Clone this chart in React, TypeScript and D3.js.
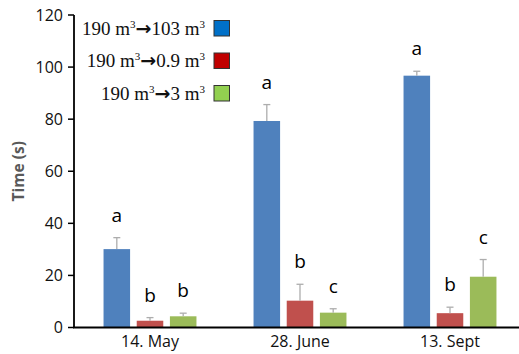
import React from "react";
import * as d3 from "d3";

const dates = ["14. May", "28. June", "13. Sept"];
const seriesKeys = ["103", "0.9", "3"];
const seriesLabels = ["103", "0.9", "3"];
const blueValues = [30.1, 79.3, 96.7];
const redValues = [2.6, 10.3, 5.5];
const greenValues = [4.3, 5.7, 19.5];
const blueErr = [4.4, 6.3, 1.7];
const redErr = [1.2, 6.3, 2.3];
const greenErr = [1.2, 1.5, 6.6];
const blueLetters = ["a", "a", "a"];
const redLetters = ["b", "b", "b"];
const greenLetters = ["b", "c", "c"];
const yTicks = [0, 20, 40, 60, 80, 100, 120];

const barColors = ["#4F81BD", "#C0504D", "#9BBB59"];
const legendColors = ["#0070C8", "#C00000", "#92D050"];

export default function App() {
  const W = 519, H = 354;
  const x0 = 75, x1 = 525;
  const y = d3.scaleLinear().domain([0, 120]).range([327.5, 15]);
  const xb = d3.scaleBand().domain(dates).range([x0, x1]).paddingInner(0).paddingOuter(0);
  const xs = d3.scaleBand().domain(seriesKeys).range([0, xb.bandwidth()]).paddingInner(0.2).paddingOuter(0.86);
  const values = [blueValues, redValues, greenValues];
  const errs = [blueErr, redErr, greenErr];
  const letters = [blueLetters, redLetters, greenLetters];
  const sans = "Open Sans, Lato, sans-serif";
  const serif = "Liberation Serif, DejaVu Serif, serif";

  return (
    <svg width={W} height={H} style={{ position: "absolute", left: 0, top: 0, background: "#fff" }}>
      {/* bars */}
      {seriesKeys.map((k, si) =>
        dates.map((dt, di) => {
          const v = values[si][di];
          const e = errs[si][di];
          const bx = (xb(dt) as number) + (xs(k) as number);
          const bw = xs.bandwidth();
          const cx = bx + bw / 2;
          const top = y(v + e);
          return (
            <g key={k + dt}>
              <rect x={bx} y={y(v)} width={bw} height={y(0) - y(v)} fill={barColors[si]} />
              <line x1={cx} x2={cx} y1={y(v)} y2={top} stroke="#ADADAD" strokeWidth={1.3} />
              <line x1={cx - 3.5} x2={cx + 3.5} y1={top} y2={top} stroke="#ADADAD" strokeWidth={1.3} />
              <text x={cx} y={top - 16} textAnchor="middle" fontFamily={sans} fontSize={19} fill="#000">
                {letters[si][di]}
              </text>
            </g>
          );
        })
      )}
      {/* y axis */}
      <line x1={74} x2={74} y1={y(120)} y2={y(0)} stroke="#000" strokeWidth={1.8} />
      {yTicks.map((t) => (
        <g key={t}>
          <line x1={68} x2={74} y1={y(t)} y2={y(t)} stroke="#000" strokeWidth={1.5} />
          <text x={63} y={y(t)} dy="0.36em" textAnchor="end" fontFamily={sans} fontSize={16} fill="#111">
            {t}
          </text>
        </g>
      ))}
      {/* x axis */}
      <line x1={73} x2={W} y1={y(0)} y2={y(0)} stroke="#000" strokeWidth={1.8} />
      {dates.map((dt) => (
        <text key={dt} x={(xb(dt) as number) + xb.bandwidth() / 2} y={347} textAnchor="middle" fontFamily={sans} fontSize={16} fill="#111">
          {dt}
        </text>
      ))}
      <text transform={`translate(24,${y(60)}) rotate(-90)`} textAnchor="middle" fontFamily={sans} fontSize={15.5} fontWeight="bold" fill="#595959">
        Time (s)
      </text>
      {/* legend */}
      {seriesLabels.map((lab, i) => {
        const cy = 28 + i * 32.5;
        return (
          <g key={lab}>
            <text x={205} y={cy} dy="0.35em" textAnchor="end" fontFamily={serif} fontSize={19} fill="#111">
              190 m<tspan fontSize={11} dy="-7">3</tspan>
              <tspan dy="7" fontWeight="bold" fontFamily="DejaVu Sans">→</tspan>
              {lab} m<tspan fontSize={11} dy="-7">3</tspan>
            </text>
            <rect x={214} y={cy - 7.5} width={15.5} height={15.5} fill={legendColors[i]} stroke="#333" strokeWidth={1} />
          </g>
        );
      })}
    </svg>
  );
}
